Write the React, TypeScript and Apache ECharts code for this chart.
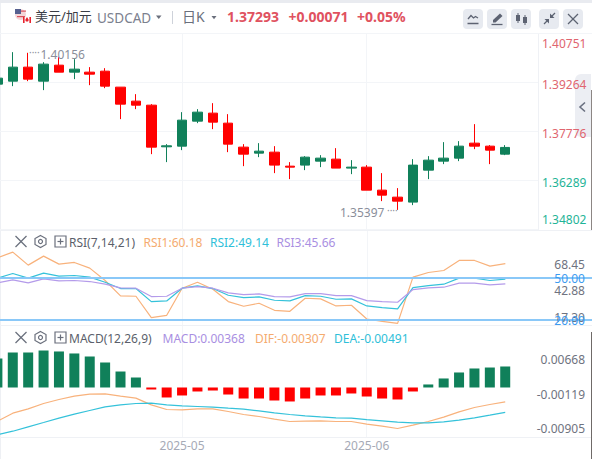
import React, { useEffect, useRef } from "react";
import * as echarts from "echarts";

const FONT = '"Noto Sans","Noto Sans CJK SC",sans-serif';

// Candles: [open, close, low, high]
const candles: number[][] = [
  [1.39214, 1.39396, 1.3915, 1.3945],
  [1.39305, 1.3973, 1.39153, 1.40185],
  [1.3973, 1.39366, 1.39305, 1.40165],
  [1.39305, 1.39821, 1.39032, 1.39881],
  [1.3979, 1.39578, 1.39578, 1.40043],
  [1.39578, 1.39669, 1.39366, 1.39972],
  [1.39578, 1.39517, 1.39183, 1.3973],
  [1.39608, 1.39153, 1.39092, 1.39699],
  [1.39123, 1.38607, 1.38152, 1.39123],
  [1.38698, 1.38576, 1.38455, 1.3891],
  [1.38576, 1.37302, 1.37089, 1.38607],
  [1.37312, 1.37342, 1.36847, 1.37393],
  [1.37332, 1.38121, 1.37211, 1.38364],
  [1.38091, 1.38364, 1.3803, 1.38455],
  [1.38334, 1.38061, 1.37848, 1.38637],
  [1.3803, 1.37393, 1.3715, 1.38303],
  [1.37302, 1.37089, 1.36725, 1.37393],
  [1.3712, 1.3718, 1.36998, 1.37423],
  [1.3715, 1.36756, 1.36513, 1.37332],
  [1.36725, 1.36695, 1.36331, 1.36847],
  [1.36756, 1.36998, 1.36604, 1.37029],
  [1.36877, 1.36968, 1.36695, 1.37059],
  [1.36938, 1.36665, 1.36665, 1.37271],
  [1.36665, 1.36695, 1.36482, 1.36907],
  [1.36695, 1.35997, 1.35997, 1.36756],
  [1.35997, 1.35845, 1.35663, 1.36513],
  [1.35784, 1.35663, 1.35397, 1.36058],
  [1.35633, 1.36756, 1.35542, 1.36938],
  [1.36604, 1.36907, 1.36331, 1.37029],
  [1.36877, 1.36968, 1.36786, 1.37454],
  [1.36968, 1.37332, 1.36877, 1.37484],
  [1.37423, 1.37332, 1.37241, 1.38],
  [1.37332, 1.37211, 1.36786, 1.37363],
  [1.37089, 1.37293, 1.37059, 1.37363],
];

const rsi1 = [64.4, 68.48, 59.12, 65.6, 59.84, 61.04, 56.96, 48.08, 37.04, 36.8, 21.44, 23.12, 42.56, 46.88, 41.84, 32.96, 29.6, 31.76, 26.72, 26.0, 35.36, 34.88, 29.84, 30.32, 20.48, 18.8, 17.3, 50.48, 53.84, 55.28, 62.48, 62.48, 58.4, 60.18];
const rsi2 = [49.76, 53.12, 49.76, 53.36, 51.2, 51.68, 50.48, 46.88, 42.32, 42.32, 32.96, 33.44, 42.56, 44.24, 42.32, 37.52, 35.84, 36.32, 33.92, 33.44, 37.28, 36.8, 34.64, 34.88, 29.84, 28.64, 27.68, 43.04, 44.48, 45.44, 49.76, 49.76, 48.08, 49.14];
const rsi3 = [46.4, 48.56, 46.4, 49.28, 47.84, 48.08, 47.36, 45.44, 42.8, 42.56, 36.56, 36.8, 42.56, 43.76, 42.56, 39.2, 38.0, 38.48, 36.56, 36.32, 38.72, 38.72, 37.28, 37.28, 33.68, 32.96, 32.48, 41.6, 42.8, 43.28, 46.16, 46.16, 44.96, 45.66];

const macdBars = [0.00508, 0.00613, 0.00613, 0.00648, 0.00631, 0.00596, 0.00543, 0.00438, 0.0028, 0.00175, -0.00035, -0.00175, -0.0014, -0.0007, -0.00053, -0.00123, -0.00193, -0.00193, -0.00228, -0.00245, -0.00193, -0.0014, -0.0014, -0.00105, -0.00158, -0.00193, -0.0021, -0.0007, 0.00053, 0.00158, 0.00263, 0.00333, 0.0035, 0.00368];
const dif = [-0.00647, -0.00506, -0.00429, -0.00335, -0.00265, -0.00206, -0.00171, -0.00165, -0.00206, -0.00241, -0.00359, -0.00441, -0.00447, -0.00429, -0.00429, -0.00476, -0.00529, -0.00565, -0.00612, -0.00653, -0.00647, -0.00641, -0.00653, -0.00653, -0.007, -0.00735, -0.00776, -0.00718, -0.00653, -0.00576, -0.00482, -0.00406, -0.00353, -0.00307];
const dea = [-0.00888, -0.00824, -0.00747, -0.00671, -0.00594, -0.00524, -0.00459, -0.00394, -0.00359, -0.00335, -0.00329, -0.00359, -0.00376, -0.00388, -0.004, -0.00418, -0.00435, -0.00465, -0.005, -0.00529, -0.00553, -0.00571, -0.00588, -0.00594, -0.00618, -0.00641, -0.00665, -0.00676, -0.00676, -0.00659, -0.00629, -0.00588, -0.00541, -0.00491];

const priceTicks = [1.34802, 1.36289, 1.37776, 1.39264, 1.40751];
const monthIndex = [12, 24];
const monthLabels = ["2025-05", "2025-06"];
const rsiLevels = [50, 20];

const UP = "#10805a";
const DOWN = "#ff0000";
const ORANGE = "#f8b27c";
const CYAN = "#35c2da";
const PURPLE = "#b49bea";
const GRID = "#f3f5f8";
const ICON = "#5d6372";

const txt = (text: string, x: number, y: number, fill: string, size = 12, align = "left", weight = "normal") => ({
  type: "text", x, y, z: 20,
  style: { text, fill, font: `${weight} ${size}px ${FONT}`, textAlign: align, textVerticalAlign: "middle", verticalAlign: "middle", align },
});
const seg = (x1: number, y1: number, x2: number, y2: number, stroke = ICON, lineWidth = 1.2) => ({
  type: "line", z: 20, shape: { x1, y1, x2, y2 }, style: { stroke, lineWidth },
});
const box = (x: number, y: number, width: number, height: number, fill: string, r = 0, z = 19) => ({
  type: "rect", z, shape: { x, y, width, height, r }, style: { fill },
});
const poly = (points: number[][], fill: string) => ({ type: "polygon", z: 21, shape: { points }, style: { fill } });
const pline = (points: number[][], stroke = ICON, lineWidth = 1.2) => ({
  type: "polyline", z: 21, shape: { points }, style: { stroke, lineWidth, fill: "none" },
});

const panelIcons = (y: number) => [
  seg(15.5, y - 5.5, 26.5, y + 5.5, "#6a6f7c"),
  seg(26.5, y - 5.5, 15.5, y + 5.5, "#6a6f7c"),
  { type: "polygon", z: 20, shape: { points: [[40.5, y - 6], [46, y - 3], [46, y + 3], [40.5, y + 6], [35, y + 3], [35, y - 3]] }, style: { fill: "none", stroke: "#6a6f7c", lineWidth: 1.2 } },
  { type: "circle", z: 20, shape: { cx: 40.5, cy: y, r: 2 }, style: { fill: "none", stroke: "#6a6f7c", lineWidth: 1.2 } },
  { type: "rect", z: 20, shape: { x: 55, y: y - 5.5, width: 11, height: 11 }, style: { fill: "none", stroke: "#6a6f7c", lineWidth: 1.2 } },
  seg(60.5, y - 3, 60.5, y + 3, "#6a6f7c"),
  seg(57.5, y, 63.5, y, "#6a6f7c"),
];

const buildGraphic = () => [
  box(0, 0, 592, 3, "#e9ebf0", 0, 1),
  box(0, 3, 1, 456, "#eef0f4", 0, 1),
  box(591, 90, 1, 140, "#8c8684", 0, 30),
  box(591, 332, 1, 127, "#6f6a68", 0, 30),
  seg(0, 33.5, 592, 33.5, GRID, 1),
  seg(0, 230.5, 592, 230.5, "#eff1f5", 1),
  seg(0, 325.5, 592, 325.5, "#eff1f5", 1),
  seg(0, 437.5, 592, 437.5, "#eff1f5", 1),
  // flag
  { type: "circle", z: 20, shape: { cx: 20.5, cy: 14.5, r: 5.5 }, style: { fill: "#f3d6d8" } },
  box(15, 9, 6, 5, "#56608f", 0, 21),
  box(21, 10.5, 5, 1.2, "#d9515c", 0, 21),
  box(17, 16, 8, 1.2, "#d9515c", 0, 21),
  box(23, 17, 8, 6, "#ffffff", 0, 22),
  { ...box(23, 17, 1.6, 6, "#e8232e", 0, 23) },
  { ...box(29.4, 17, 1.6, 6, "#e8232e", 0, 23) },
  { ...poly([[27, 17], [28.8, 20], [28, 21.4], [26, 21.4], [25.2, 20]], "#e8232e"), z: 23 },
  // header
  txt("美元/加元", 35, 16, "#3a3d46", 13),
  txt("USDCAD", 97, 17.5, "#7b808e", 13.5),
  poly([[156, 15.5], [161.5, 15.5], [158.75, 19]], "#6a6f7c"),
  seg(172.5, 11, 172.5, 24, "#ced2da", 1),
  txt("日K", 182, 16, "#6a6f7c", 14),
  poly([[211.5, 16], [216.5, 16], [214, 19.2]], "#6a6f7c"),
  txt("1.37293", 227, 16.5, "#e0525f", 14, "left", "bold"),
  txt("+0.00071", 288.5, 16.5, "#e0525f", 14, "left", "bold"),
  txt("+0.05%", 357, 16.5, "#e0525f", 14, "left", "bold"),
  // buttons
  box(463, 9, 20, 20, "#e7eaf0", 4),
  pline([[468, 19], [471, 15.5], [473.5, 18], [475.5, 16.5], [478, 18]], ICON, 1.3),
  seg(467.5, 23.5, 478.5, 23.5, ICON, 1.5),
  box(487, 9, 20, 20, "#e7eaf0", 4),
  poly([[493, 20], [500, 13.5], [502.5, 16], [495.5, 22.5], [493, 22.5]], ICON),
  seg(491.5, 24.5, 502.5, 24.5, ICON, 1.3),
  box(511, 9, 20, 20, "#e7eaf0", 4),
  { ...box(516, 15, 4, 6, ICON, 0, 21) },
  seg(518, 13, 518, 23, ICON, 1),
  { ...box(523, 17, 4, 6, ICON, 0, 21) },
  seg(525, 15, 525, 25, ICON, 1),
  box(539, 9, 20, 20, "#e7eaf0", 4),
  seg(544, 24, 547.5, 20.5, ICON, 1.3),
  poly([[549, 19], [549, 23.5], [544.5, 19]], ICON),
  seg(555, 13, 551.5, 16.5, ICON, 1.3),
  poly([[550, 18], [550, 13.5], [554.5, 18]], ICON),
  box(563, 9, 20, 20, "#e7eaf0", 4),
  seg(568, 14, 578, 24, ICON, 1.2),
  seg(578, 14, 568, 24, ICON, 1.2),
  // side tab (sits beneath the price labels)
  { type: "rect", z: 1, shape: { x: 575, y: 74, width: 16, height: 63, r: [6, 0, 0, 6] }, style: { fill: "#eceef3" } },
  { ...pline([[585, 102.5], [580, 107], [585, 111.5]], "#6a7080", 1.6), z: 26 },
  // extreme annotations
  txt("····", 29, 52, "#8d919d", 10),
  txt("1.40156", 40.5, 54.5, "#8a8e9a", 12),
  txt("1.35397", 340, 212.5, "#8a8e9a", 12),
  txt("····", 387, 210, "#8d919d", 10),
  // RSI header
  ...panelIcons(241.5),
  txt("RSI(7,14,21)", 69, 242, "#5b5f6b", 12),
  txt("RSI1:60.18", 143.5, 242, "#f5ab6f", 12),
  txt("RSI2:49.14", 210, 242, "#2fbfd9", 12),
  txt("RSI3:45.66", 276.5, 242, "#a98fe2", 12),
  txt("68.45", 585, 264.5, "#6f7380", 12, "right"),
  txt("42.88", 585, 290.5, "#6f7380", 12, "right"),
  txt("17.30", 585, 317.5, "#6f7380", 12, "right"),
  txt("50.00", 585, 278.5, "#3c9bf0", 12, "right"),
  txt("20.00", 585, 320, "#3c9bf0", 12, "right"),
  // MACD header
  ...panelIcons(337.5),
  txt("MACD(12,26,9)", 69, 338, "#5b5f6b", 12),
  txt("MACD:0.00368", 162.5, 338, "#a98fe2", 12),
  txt("DIF:-0.00307", 255, 338, "#f5ab6f", 12),
  txt("DEA:-0.00491", 334, 338, "#2fbfd9", 12),
  txt("0.00668", 585, 359.5, "#6f7380", 12, "right"),
  txt("-0.00119", 585, 394, "#6f7380", 12, "right"),
  txt("-0.00905", 585, 428.5, "#6f7380", 12, "right"),
];

export default function App() {
  const ref = useRef<HTMLDivElement>(null);
  useEffect(() => {
    document.body.style.margin = "0";
    const chart = echarts.init(ref.current!, undefined, { renderer: "svg" });
    const xMin = 0.169;
    const vAxis = (gridIndex: number, max: number, showLabel = false) => ({
      type: "value", gridIndex, min: xMin, max,
      axisLine: { show: false },
      axisTick: { show: false, customValues: monthIndex },
      splitLine: { show: true, lineStyle: { color: GRID, width: 1 } },
      axisLabel: showLabel
        ? {
            show: true, customValues: monthIndex, margin: 2, color: "#a6aab6", fontSize: 12, fontFamily: FONT,
            formatter: (v: number) => monthLabels[monthIndex.indexOf(v)] ?? "",
          }
        : { show: false },
    });
    const idx = (arr: number[]) => arr.map((v, i) => [i, v]);
    const line = (xAxisIndex: number, yAxisIndex: number, data: number[], color: string, extra = {}) => ({
      type: "line", xAxisIndex, yAxisIndex, data: idx(data), showSymbol: false, symbol: "none",
      lineStyle: { color, width: 1.2 }, ...extra,
    });
    const labelStyle = { fontSize: 12, fontFamily: FONT };
    chart.setOption({
      animation: false,
      backgroundColor: "#ffffff",
      grid: [
        { left: 0, width: 538, top: 33.5, height: 196 },
        { left: 0, width: 592, top: 230, height: 95 },
        { left: 0, width: 538, top: 325.5, height: 112 },
      ],
      xAxis: [vAxis(0, 35.13), vAxis(1, 38.63), vAxis(2, 35.13, true)],
      yAxis: [
        {
          type: "value", gridIndex: 0, position: "right", min: 1.34802, max: 1.40751, scale: true, z: 5,
          axisLine: { show: true, lineStyle: { color: "#eff1f5" } },
          axisTick: { show: false, customValues: priceTicks },
          splitLine: { show: true, lineStyle: { color: GRID } },
          axisLabel: {
            show: true, customValues: priceTicks, margin: 4, ...labelStyle,
            verticalAlignMaxLabel: "top", verticalAlignMinLabel: "bottom",
            formatter: (v: number) => (v === priceTicks[0] ? `{low|${v.toFixed(5)}}` : v > 1.37 ? `{red|${v.toFixed(5)}}` : `{green|${v.toFixed(5)}}`),
            rich: {
              red: { ...labelStyle, color: "#e0656f", padding: [4, 0, 0, 0] },
              green: { ...labelStyle, color: "#1fb497", padding: [4, 0, 0, 0] },
              low: { ...labelStyle, color: "#1fb497", padding: [0, 0, 4, 0] },
            },
          },
        },
        { type: "value", gridIndex: 1, min: 16.16, max: 84.34, show: false },
        { type: "value", gridIndex: 2, min: -0.00876, max: 0.01086, show: false },
        { type: "value", gridIndex: 2, min: -0.00935, max: 0.01041, show: false },
      ],
      series: [
        {
          type: "candlestick", xAxisIndex: 0, yAxisIndex: 0, barWidth: 10, z: 10,
          encode: { x: 0, y: [1, 2, 3, 4] },
          data: candles.map((c, i) => [i, ...c]),
          itemStyle: { color: UP, color0: DOWN, borderColor: UP, borderColor0: DOWN, borderWidth: 1 },
        },
        line(1, 1, rsi1, ORANGE, {
          markLine: {
            silent: true, symbol: "none", label: { show: false },
            lineStyle: { color: "#8ac8f8", width: 2, type: "solid" },
            data: rsiLevels.map((v) => ({ yAxis: v })),
          },
        }),
        line(1, 1, rsi2, CYAN),
        line(1, 1, rsi3, PURPLE),
        {
          type: "bar", xAxisIndex: 2, yAxisIndex: 2, barWidth: 10,
          data: idx(macdBars),
          itemStyle: { color: (p: any) => (p.value[1] >= 0 ? UP : DOWN) },
        },
        line(2, 3, dif, ORANGE),
        line(2, 3, dea, CYAN),
      ],
      graphic: { elements: buildGraphic() },
    });
    return () => chart.dispose();
  }, []);
  return <div ref={ref} style={{ width: 592, height: 459 }} />;
}
